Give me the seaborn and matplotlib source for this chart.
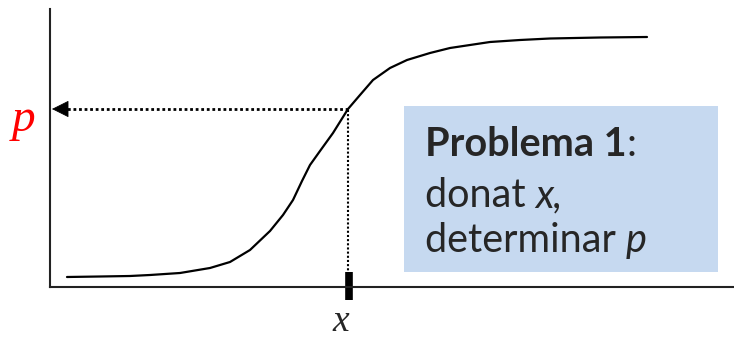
import numpy as np
import pandas as pd
import seaborn as sns
import matplotlib.pyplot as plt
from matplotlib.patches import Rectangle

# curve (x position, height above the bottom of the image)
curve_x = [67, 100, 130, 150, 180, 210, 230, 250, 270, 283, 293, 302, 310,
           320, 333, 348, 360, 373, 390, 407, 430, 450, 470, 490, 520, 550,
           600, 647]
curve_y = [63, 63.5, 64, 65, 67, 72, 78, 90, 109, 125, 140, 159, 175,
           189, 207, 231, 245, 260, 272, 280, 287, 292, 295, 298, 300, 301.5,
           302.5, 303]

# the chosen x and the resulting p
x0 = 348
p0 = 231

box_text_bold = "Problema 1"
line2 = ("donat ", "x,")
line3 = ("determinar ", "p")

sns.set_style("white")
plt.rcParams["font.family"] = ["Lato", "DejaVu Sans"]

fig = plt.figure(figsize=(7.34, 3.4), dpi=100)
ax = fig.add_axes([50 / 734, 53 / 340, 684 / 734, 278 / 340])
ax.set_xlim(50, 734)
ax.set_ylim(53, 331)
for side in ["top", "right"]:
    ax.spines[side].set_visible(False)
for side in ["left", "bottom"]:
    ax.spines[side].set_color("#222222")
    ax.spines[side].set_linewidth(1.5)
ax.set_xticks([])
ax.set_yticks([])

df = pd.DataFrame({"x": curve_x, "p": curve_y})
sns.lineplot(data=df, x="x", y="p", sort=False, color="black", lw=1.6, ax=ax)
ax.set_xlabel("")
ax.set_ylabel("")

# dotted guides
ax.plot([x0, x0], [53, p0], color="black", lw=1.5, ls=(0, (1, 1)), clip_on=False)
ax.plot([x0, 64], [p0, p0], color="black", lw=2, ls=(0, (1, 1)), clip_on=False)
ax.annotate("", xy=(52, p0), xytext=(68, p0),
            arrowprops=dict(arrowstyle="-|>,head_length=1.1,head_width=0.55",
                            color="black", lw=0.5, shrinkA=0, shrinkB=0),
            annotation_clip=False)

# tick at x
ax.plot([x0 + 1, x0 + 1], [40, 68], color="black", lw=5.5, solid_capstyle="butt", clip_on=False)

ax.text(x0 - 7, 9, "x", fontsize=27, family="Liberation Serif", style="italic",
        ha="center", va="baseline", clip_on=False)
ax.text(24, 209, "p", fontsize=34, family="Liberation Serif", style="italic",
        color="red", ha="center", va="baseline", clip_on=False)

# info box
ax.add_patch(Rectangle((404, 68), 314, 166, facecolor="#c6d9f0", edgecolor="none"))

fig.canvas.draw()
rend = fig.canvas.get_renderer()


def put(parts, y):
    xpos = 425
    for txt, kw in parts:
        t = ax.text(xpos, y, txt, fontsize=28.5, va="baseline", ha="left", **kw)
        bb = t.get_window_extent(renderer=rend)
        xpos = ax.transData.inverted().transform((bb.x1, bb.y0))[0]


put([(box_text_bold, dict(weight="bold")), (":", {})], 184)
put([(line2[0], {}), (line2[1], dict(style="italic"))], 133)
put([(line3[0], {}), (line3[1], dict(style="italic"))], 88)

fig.savefig("out.png", dpi=100)
